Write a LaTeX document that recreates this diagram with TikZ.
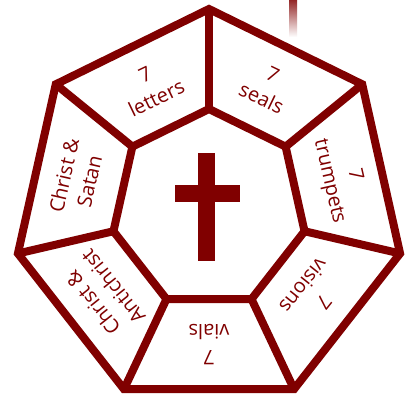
\documentclass[tikz,border=0pt]{standalone}
\usepackage{fontspec}
\setmainfont{Open Sans}
\definecolor{mainred}{RGB}{128,0,0}
\begin{document}
\begin{tikzpicture}[x=1pt,y=1pt,
  ring/.style={draw=mainred,line width=8pt,line join=miter},
  seglabel/.style={text=mainred,align=center,font=\fontsize{20}{26}\selectfont,inner sep=0pt}]
\useasboundingbox (0,0) rectangle (414,395);
\fill[white] (0,0) rectangle (414,395);
\coordinate (C) at (209,186);
\foreach \k in {0,...,6} {
  \pgfmathsetmacro\a{90+\k*360/7}
  \coordinate (O\k) at ([shift={(C)}]\a:196 and 200);
  \coordinate (I\k) at ([shift={(C)}]\a:98 and 100);
}
\foreach \k in {0,...,6} {\draw[ring] (I\k) -- (O\k);}
\draw[ring] (O0) -- (O1) -- (O2) -- (O3) -- (O4) -- (O5) -- (O6) -- cycle;
\draw[ring] (I0) -- (I1) -- (I2) -- (I3) -- (I4) -- (I5) -- (I6) -- cycle;
% cross
\fill[mainred] (198,134) rectangle (215,242);
\fill[mainred] (175,193) rectangle (240,210);
% faded strip
\shade[top color=mainred!85, bottom color=white] (289,358) rectangle (297,395);
% labels
\node[seglabel, rotate=25.71] (t0) at ([shift={(C)}]115.71:134 and 136) {7\\letters};
\node[seglabel, rotate=77.14] (t1) at ([shift={(C)}]167.14:136 and 138) {Christ \&\\Satan};
\node[seglabel, rotate=128.57] (t2) at ([shift={(C)}]218.57:136 and 138) {Christ \&\\Antichrist};
\node[seglabel, rotate=180] (t3) at ([shift={(C)}]270:134 and 136) {7\\vials};
\node[seglabel, rotate=231.43] (t4) at ([shift={(C)}]321.43:134 and 136) {7\\visions};
\node[seglabel, rotate=282.86] (t5) at ([shift={(C)}]12.86:136 and 138) {7\\trumpets};
\node[seglabel, rotate=334.29] (t6) at ([shift={(C)}]64.29:134 and 136) {7\\seals};
\end{tikzpicture}
\end{document}
